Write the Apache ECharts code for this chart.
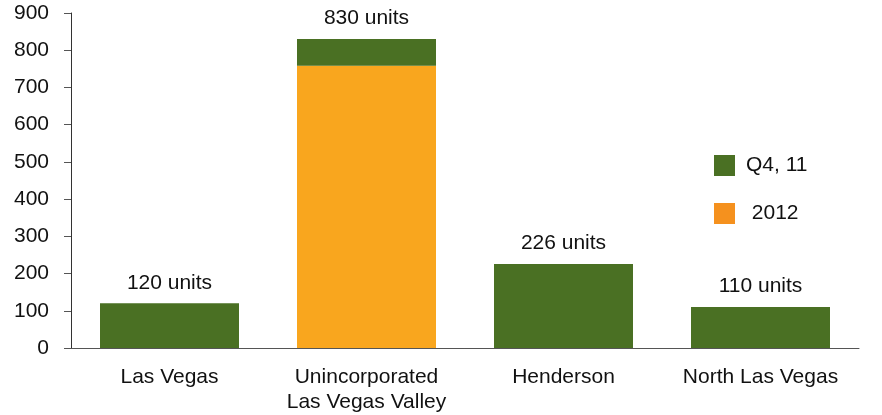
<!DOCTYPE html>
<html>
<head>
<meta charset="utf-8">
<script src="https://cdn.jsdelivr.net/npm/echarts@6/dist/echarts.min.js"></script>
<style>
html,body{margin:0;padding:0;background:#fff;}
#chart{width:882px;height:415px;}
</style>
</head>
<body>
<div id="chart"></div>
<script>
// categories and values
var categories = ['Las Vegas', 'Unincorporated\nLas Vegas Valley', 'Henderson', 'North Las Vegas'];
var q4Values = [120, 72, 226, 110];
var y2012Values = [null, 758, null, null];
var yTicks = [0, 900, 100]; // min, max, step

var green = '#4a7023',
    orange = '#f9a61e',
    font = 'Liberation Sans, Arial, sans-serif';

function total(i){
	return (q4Values[i] || 0) + (y2012Values[i] || 0);
}

var myChart = echarts.init(document.getElementById('chart'));
var option = {
	animation: false,
	textStyle: {fontFamily: font},
	grid: {left: 71, right: 23, top: 13, bottom: 66},
	legend: {
		orient: 'vertical',
		left: 709,
		top: 150,
		icon: 'rect',
		itemWidth: 21,
		itemHeight: 21,
		itemGap: 27,
		textStyle: {fontSize: 21, color: '#111', fontFamily: font, padding: [0, 0, 0, 6]},
		data: [
			{name: 'Q4, 11', itemStyle: {color: green}},
			{name: ' 2012', itemStyle: {color: '#f5911e'}}
		]
	},
	xAxis: {
		type: 'category',
		data: categories,
		axisLine: {lineStyle: {color: '#555', width: 1}},
		axisTick: {show: false},
		axisLabel: {interval: 0, fontSize: 21, color: '#111', margin: 17, lineHeight: 25, fontFamily: font}
	},
	yAxis: {
		type: 'value',
		min: yTicks[0],
		max: yTicks[1],
		interval: yTicks[2],
		splitLine: {show: false},
		axisLine: {show: true, lineStyle: {color: '#333', width: 1}},
		axisTick: {show: true, length: 7, lineStyle: {color: '#555'}},
		axisLabel: {fontSize: 21, color: '#111', margin: 22, fontFamily: font}
	},
	series: [{
		name: ' 2012',
		type: 'bar',
		stack: 'total',
		barWidth: 139,
		itemStyle: {color: orange},
		data: y2012Values
	},{
		name: 'Q4, 11',
		type: 'bar',
		stack: 'total',
		barWidth: 139,
		itemStyle: {color: green},
		label: {
			show: true,
			position: 'top',
			distance: 10,
			fontSize: 21,
			color: '#111',
			fontFamily: font,
			formatter: function(p){ return total(p.dataIndex) + ' units'; }
		},
		data: q4Values
	}]
};
myChart.setOption(option);
</script>
</body>
</html>
